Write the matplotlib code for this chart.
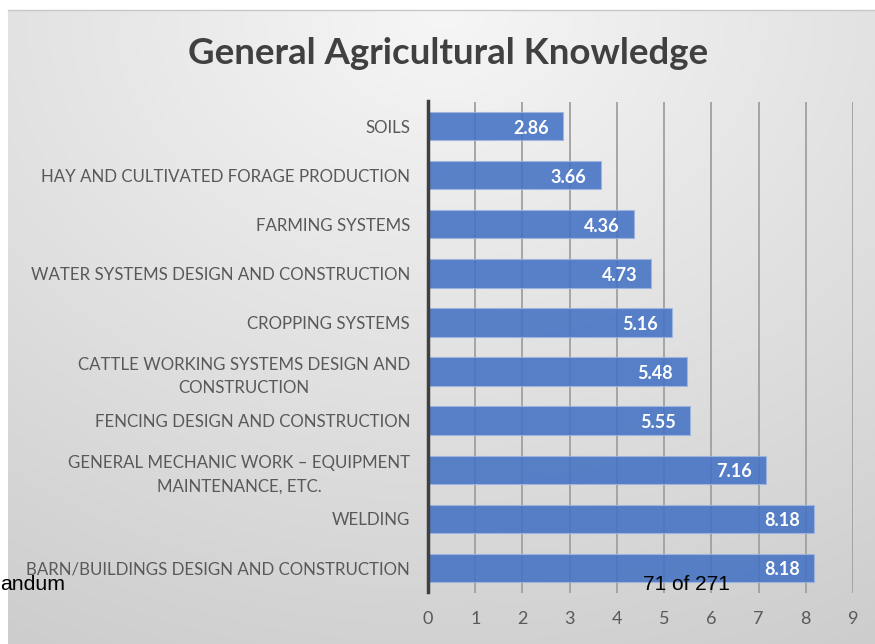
import numpy as np
import matplotlib
matplotlib.use("Agg")
import matplotlib.pyplot as plt
from matplotlib import font_manager

categories = [
    "SOILS",
    "HAY AND CULTIVATED FORAGE PRODUCTION",
    "FARMING SYSTEMS",
    "WATER SYSTEMS DESIGN AND CONSTRUCTION",
    "CROPPING SYSTEMS",
    "CATTLE WORKING SYSTEMS DESIGN AND\nCONSTRUCTION",
    "FENCING DESIGN AND CONSTRUCTION",
    "GENERAL MECHANIC WORK \u2013 EQUIPMENT\nMAINTENANCE, ETC.",
    "WELDING",
    "BARN/BUILDINGS DESIGN AND CONSTRUCTION",
]
scores = [2.86, 3.66, 4.36, 4.73, 5.16, 5.48, 5.55, 7.16, 8.18, 8.18]
x_ticks = [0, 1, 2, 3, 4, 5, 6, 7, 8, 9]
title = "General Agricultural Knowledge"

names = {f.name for f in font_manager.fontManager.ttflist}
font = "Lato" if "Lato" in names else "DejaVu Sans"

W, H = 875, 644
fig = plt.figure(figsize=(W / 100, H / 100), dpi=100)
fig.patch.set_facecolor("white")

# gradient backdrop of the chart area
bg = fig.add_axes([8 / W, 0, 1 - 8 / W, 1 - 10 / H])
bg.set_axis_off()
yy, xx = np.mgrid[0:1:300j, 0:1:400j]
r = np.sqrt(((xx - 0.5) * 1.1) ** 2 + (yy * 1.0) ** 2)
shade = 0.965 - 0.17 * np.clip(r, 0, 1.2) / 1.2
img = np.dstack([shade, shade, shade])
bg.imshow(img, aspect="auto", extent=[0, 1, 1, 0])
bg.set_xlim(0, 1)
bg.set_ylim(1, 0)
# thin top border line
fig.add_artist(plt.Line2D([8 / W, 1], [1 - 10 / H, 1 - 10 / H], color="#c8c8c8", lw=1))

ax = fig.add_axes([428 / W, 1 - 592.5 / H, 425 / W, (592.5 - 101.5) / H])
ax.set_facecolor("none")
y = np.arange(len(categories))
ax.set_axisbelow(True)
ax.xaxis.grid(True, color="#a0a0a0", lw=1.3)
bars = ax.barh(y, scores, height=0.58, color="#4472C4", alpha=0.88,
               edgecolor="#9db5e0", linewidth=0.8, zorder=3)
for yi, v in zip(y, scores):
    ax.text(v - 0.3, yi + 0.04, f"{v:.2f}", ha="right", va="center", color="white",
            fontsize=13, fontweight="bold", family=font, zorder=4)

ax.set_xlim(0, 9)
ax.set_ylim(len(categories) - 0.5, -0.5)
ax.set_xticks(x_ticks)
ax.set_xticklabels([str(t) for t in x_ticks], family=font, fontsize=13, color="#595959")
ax.set_yticks(y)
ax.set_yticklabels(categories, family=font, fontsize=12.2, color="#595959",
                   multialignment="center", linespacing=1.55)
ax.tick_params(axis="both", length=0)
ax.tick_params(axis="y", pad=13)
ax.tick_params(axis="x", pad=13)
for s in ["top", "right", "bottom"]:
    ax.spines[s].set_visible(False)
ax.spines["left"].set_color("#404040")
ax.spines["left"].set_linewidth(2.5)
ax.spines["left"].set_zorder(5)

fig.text(448 / W, 1 - 53 / H, title, ha="center", va="center", fontsize=26.4,
         fontweight="bold", color="#404040", family=font)

# page overlay text
fig.text(0, 1 - 584 / H, "andum", ha="left", va="center", fontsize=15.3,
         color="black", family="Liberation Sans")
fig.text(643 / W, 1 - 584 / H, "71 of 271", ha="left", va="center", fontsize=15,
         color="black", family="Liberation Sans")

fig.savefig("out.png", dpi=100)
